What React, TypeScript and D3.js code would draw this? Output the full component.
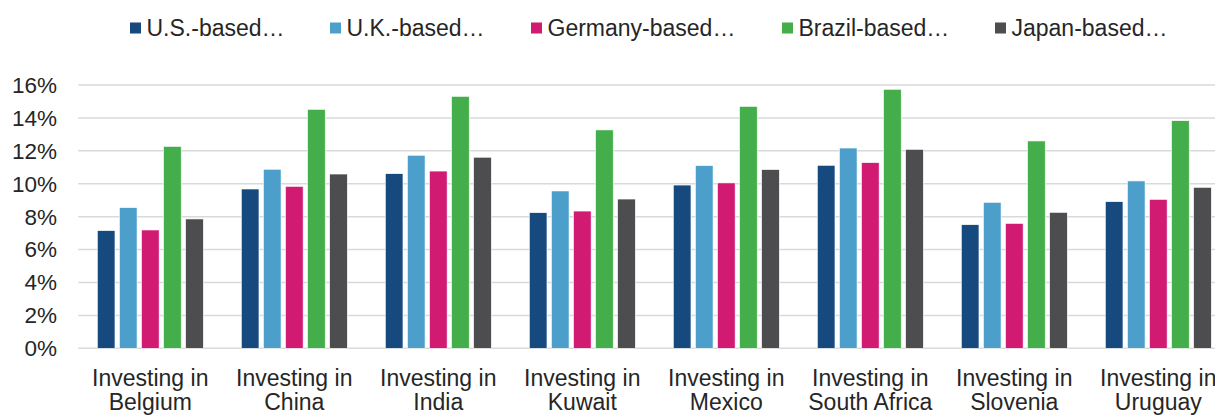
import React from "react";
import * as d3 from "d3";

const categories = [
  "Investing in Belgium",
  "Investing in China",
  "Investing in India",
  "Investing in Kuwait",
  "Investing in Mexico",
  "Investing in South Africa",
  "Investing in Slovenia",
  "Investing in Uruguay",
];

const seriesNames = ["U.S.-based…", "U.K.-based…", "Germany-based…", "Brazil-based…", "Japan-based…"];

const usBased = [7.15, 9.68, 10.61, 8.24, 9.92, 11.12, 7.51, 8.91];
const ukBased = [8.55, 10.88, 11.73, 9.56, 11.1, 12.17, 8.87, 10.17];
const germanyBased = [7.19, 9.84, 10.77, 8.34, 10.05, 11.28, 7.59, 9.05];
const brazilBased = [12.27, 14.52, 15.31, 13.27, 14.7, 15.74, 12.6, 13.83];
const japanBased = [7.86, 10.59, 11.61, 9.07, 10.86, 12.09, 8.26, 9.78];

const yTicks = [0, 2, 4, 6, 8, 10, 12, 14, 16];

const colors = ["#164a7f", "#4c9fca", "#d11b72", "#44ae4a", "#4d4d4f"];

const W = 1215;
const H = 415;
const FONT = "'Liberation Sans', Arial, sans-serif";
const TEXT = "#262626";

export default function App() {
  const series = [usBased, ukBased, germanyBased, brazilBased, japanBased];

  const x0 = d3
    .scaleBand<string>()
    .domain(categories)
    .range([78.3, 78.3 + 144 * categories.length])
    .paddingInner(0.264)
    .paddingOuter(0.132);

  const x1 = d3
    .scaleBand<number>()
    .domain(d3.range(seriesNames.length))
    .range([0, x0.bandwidth()])
    .paddingInner(0.2)
    .paddingOuter(0);

  const y = d3.scaleLinear().domain([0, 16]).range([348.3, 85]);

  const legendX = [130, 330, 531, 782, 995];

  return (
    <>
      <style>{`body{margin:0;overflow:hidden}`}</style>
      <svg width={W} height={H} style={{ display: "block", fontFamily: FONT }}>
        <rect x={0} y={0} width={W} height={H} fill="#fff" />
        {/* legend */}
        {seriesNames.map((name, i) => (
          <g key={name} transform={`translate(${legendX[i]},0)`}>
            <rect x={0} y={22.5} width={11} height={11} fill={colors[i]} />
            <text x={16.5} y={35.5} fontSize={23} fill={TEXT}>
              {name}
            </text>
          </g>
        ))}
        {/* gridlines */}
        {yTicks.map((t) => (
          <g key={t}>
            <line
              x1={78.3}
              x2={W}
              y1={y(t)}
              y2={y(t)}
              stroke="#d9d9d9"
              strokeWidth={1.5}
            />
            <text
              x={57}
              y={y(t)}
              dy="0.35em"
              textAnchor="end"
              fontSize={22.5}
              fill={TEXT}
            >
              {`${t}%`}
            </text>
          </g>
        ))}
        {/* bars */}
        {categories.map((c, ci) => (
          <g key={c} transform={`translate(${x0(c)},0)`}>
            {series.map((vals, si) => (
              <rect
                key={si}
                x={x1(si)}
                y={y(vals[ci])}
                width={x1.bandwidth()}
                height={y(0) - y(vals[ci])}
                fill={colors[si]}
                stroke="#ffffff"
                strokeWidth={0.6}
              />
            ))}
          </g>
        ))}
        {/* x labels */}
        {categories.map((c) => {
          const cx = (x0(c) as number) + x0.bandwidth() / 2;
          const parts = c.split(" ");
          const line1 = parts.slice(0, 2).join(" ");
          const line2 = parts.slice(2).join(" ");
          return (
            <text key={c} x={cx} textAnchor="middle" fontSize={23} fill={TEXT}>
              <tspan x={cx} y={385.5}>
                {line1}
              </tspan>
              <tspan x={cx} y={409.5}>
                {line2}
              </tspan>
            </text>
          );
        })}
      </svg>
    </>
  );
}
